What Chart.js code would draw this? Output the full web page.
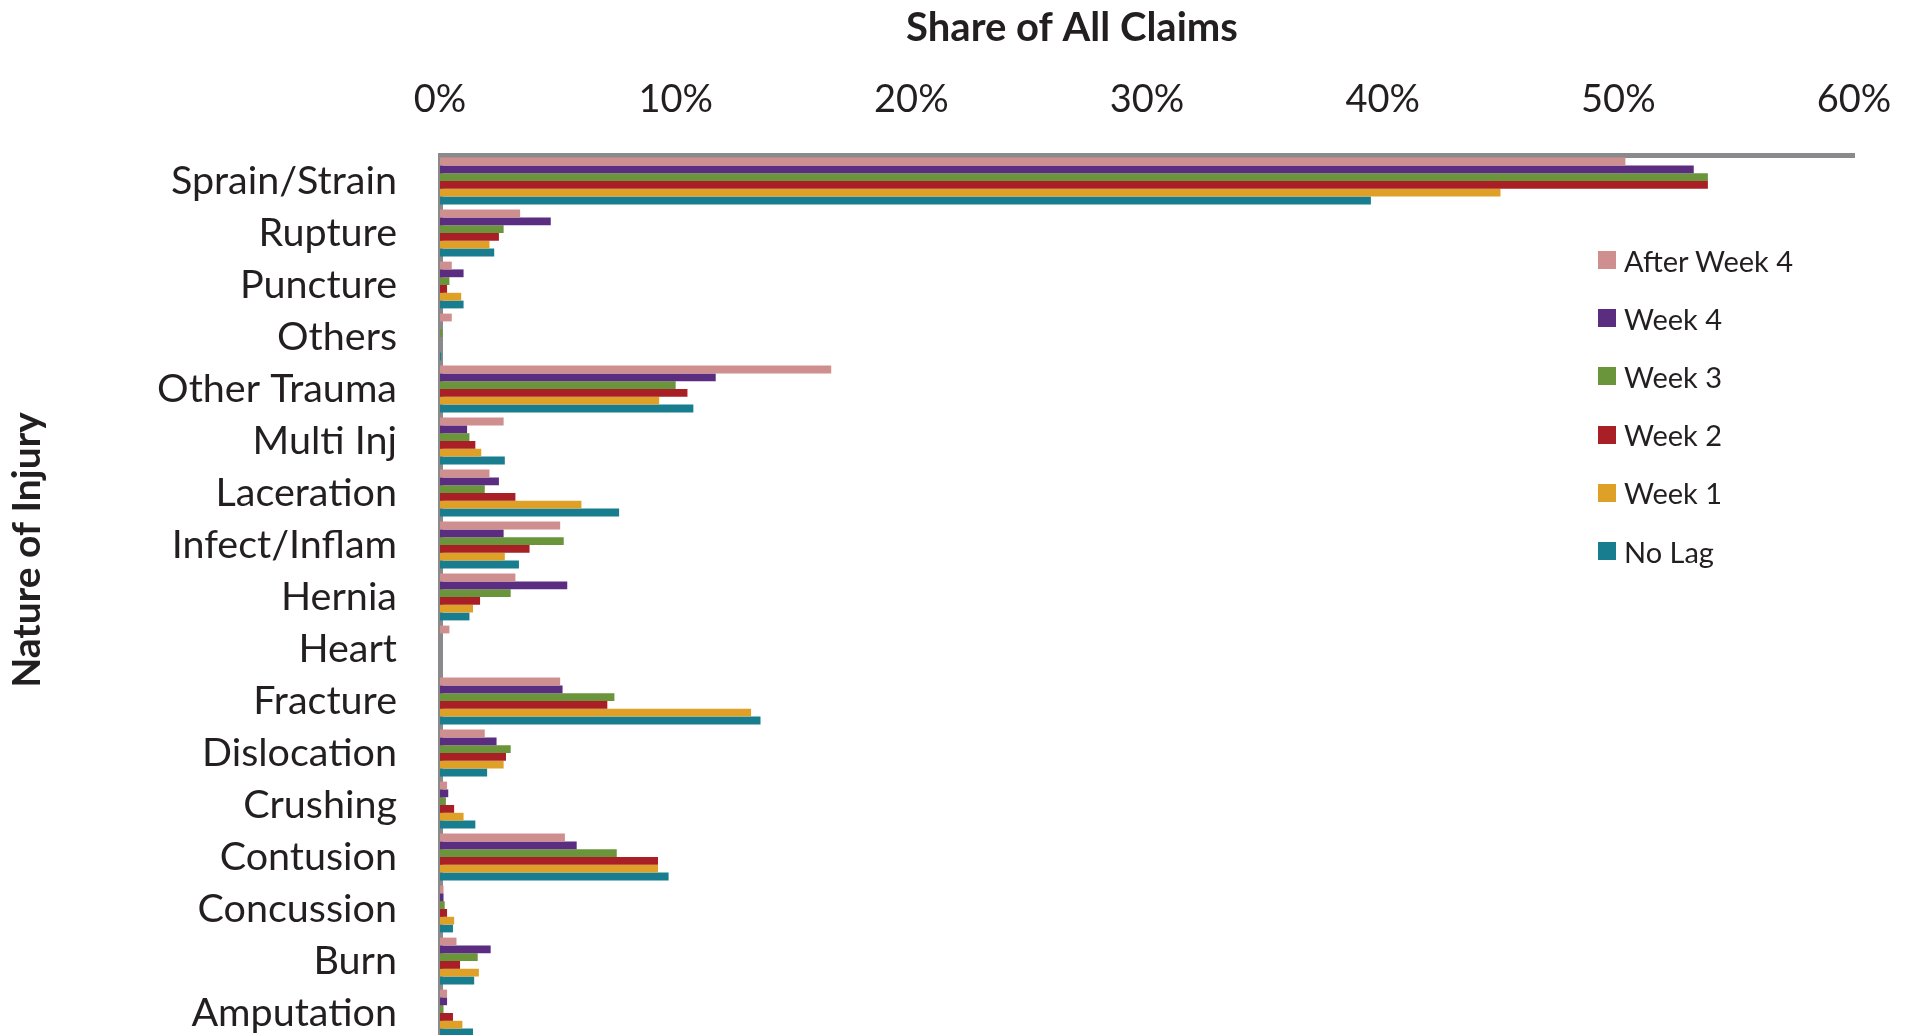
<!DOCTYPE html>
<html>
<head>
<meta charset="utf-8">
<script src="https://cdn.jsdelivr.net/npm/chart.js@4.4.0/dist/chart.umd.min.js"></script>
<style>
  html, body { margin: 0; padding: 0; background: #fff; overflow: hidden; }
  #wrap { position: relative; width: 1914px; height: 1040px; }
  #injury-chart { display: block; }
  #legend { position: absolute; left: 1598px; top: 231px; font-family: Lato, sans-serif; font-size: 29px; color: #231F20; }
  .legend-item { display: flex; align-items: center; height: 58.2px; white-space: nowrap; }
  .legend-box { width: 18px; height: 18px; margin-right: 8px; }
</style>
</head>
<body>
<div id="wrap">
  <canvas id="injury-chart" width="1914" height="1040"></canvas>
  <div id="legend"></div>
</div>
<script>
// Nature of injury, top to bottom
const categories = ['Sprain/Strain', 'Rupture', 'Puncture', 'Others', 'Other Trauma', 'Multi Inj',
    'Laceration', 'Infect/Inflam', 'Hernia', 'Heart', 'Fracture', 'Dislocation', 'Crushing',
    'Contusion', 'Concussion', 'Burn', 'Amputation'];

// Share of all claims (%) by reporting lag
const afterWeek4 = [50.3, 3.4, 0.5, 0.5, 16.6, 2.7, 2.1, 5.1, 3.2, 0.4, 5.1, 1.9, 0.3, 5.3, 0.15, 0.7, 0.3];
const week4      = [53.2, 4.7, 1.0, 0, 11.7, 1.15, 2.5, 2.7, 5.4, 0, 5.2, 2.4, 0.35, 5.8, 0.15, 2.15, 0.3];
const week3      = [53.8, 2.7, 0.4, 0.1, 10.0, 1.25, 1.9, 5.25, 3.0, 0, 7.4, 3.0, 0.25, 7.5, 0.2, 1.6, 0.15];
const week2      = [53.8, 2.5, 0.3, 0, 10.5, 1.5, 3.2, 3.8, 1.7, 0, 7.1, 2.8, 0.6, 9.25, 0.3, 0.85, 0.55];
const week1      = [45.0, 2.1, 0.9, 0, 9.3, 1.75, 6.0, 2.75, 1.4, 0, 13.2, 2.7, 1.0, 9.25, 0.6, 1.65, 0.95];
const noLag      = [39.5, 2.3, 1.0, 0.05, 10.75, 2.75, 7.6, 3.35, 1.25, 0, 13.6, 2.0, 1.5, 9.7, 0.55, 1.45, 1.4];

const seriesNames = ['After Week 4', 'Week 4', 'Week 3', 'Week 2', 'Week 1', 'No Lag'];
const seriesValues = [afterWeek4, week4, week3, week2, week1, noLag];
const seriesColors = ['#D08F8F', '#5A2D81', '#6A953B', '#A81F25', '#DFA028', '#187D8F'];

const xTicks = [0, 10, 20, 30, 40, 50, 60];
const xTitle = 'Share of All Claims';
const yTitle = 'Nature of Injury';

const textColor = '#231F20';
const axisColor = '#8A8A8D';

// Draw the two axis titles where the original puts them
const axisTitles = {
    id: 'axisTitles',
    afterDraw(chart) {
        const ctx = chart.ctx;
        ctx.save();
        ctx.fillStyle = textColor;
        ctx.textAlign = 'center';
        ctx.textBaseline = 'middle';
        ctx.font = 'bold 40px Lato';
        ctx.fillText(xTitle, 1072, 28);
        ctx.font = 'bold 39px Lato';
        ctx.translate(27, 550);
        ctx.rotate(-Math.PI / 2);
        ctx.fillText(yTitle, 0, 0);
        ctx.restore();
    }
};

const chartContext = document.getElementById('injury-chart').getContext('2d');

const injuryChart = new Chart(chartContext, {
    type: 'bar',
    data: {
        labels: categories,
        datasets: seriesNames.map((name, i) => ({
            label: name,
            data: seriesValues[i],
            backgroundColor: seriesColors[i],
            borderWidth: 0,
            categoryPercentage: 0.9,
            barPercentage: 1.0
        }))
    },
    options: {
        indexAxis: 'y',
        responsive: false,
        animation: false,
        layout: { padding: { left: 0, top: 0, right: 60, bottom: 1 } },
        plugins: {
            legend: { display: false },
            tooltip: { enabled: false }
        },
        scales: {
            x: {
                position: 'top',
                min: 0,
                max: 60,
                afterBuildTicks: scale => { scale.ticks = xTicks.map(v => ({ value: v })); },
                afterFit: scale => {
                    scale.height = 155;
                    scale.paddingLeft = 0;
                    scale.paddingRight = 0;
                },
                grid: { display: false, drawTicks: false },
                border: { display: true, color: axisColor, width: 5 },
                ticks: {
                    padding: 32,
                    color: textColor,
                    font: { family: 'Lato', size: 38 },
                    callback: v => v + '%'
                }
            },
            y: {
                afterFit: scale => {
                    scale.width = 440;
                    scale.paddingTop = 0;
                    scale.paddingBottom = 0;
                },
                grid: { display: false, drawTicks: false },
                border: { display: true, color: axisColor, width: 5 },
                ticks: {
                    padding: 43,
                    autoSkip: false,
                    color: textColor,
                    font: { family: 'Lato', size: 39.5 }
                }
            }
        }
    },
    plugins: [axisTitles]
});

// Legend built from the chart's datasets
const legendBox = document.getElementById('legend');
injuryChart.data.datasets.forEach(ds => {
    const item = document.createElement('div');
    item.className = 'legend-item';
    const box = document.createElement('span');
    box.className = 'legend-box';
    box.style.background = ds.backgroundColor;
    const label = document.createElement('span');
    label.textContent = ds.label;
    item.appendChild(box);
    item.appendChild(label);
    legendBox.appendChild(item);
});
</script>
</body>
</html>
